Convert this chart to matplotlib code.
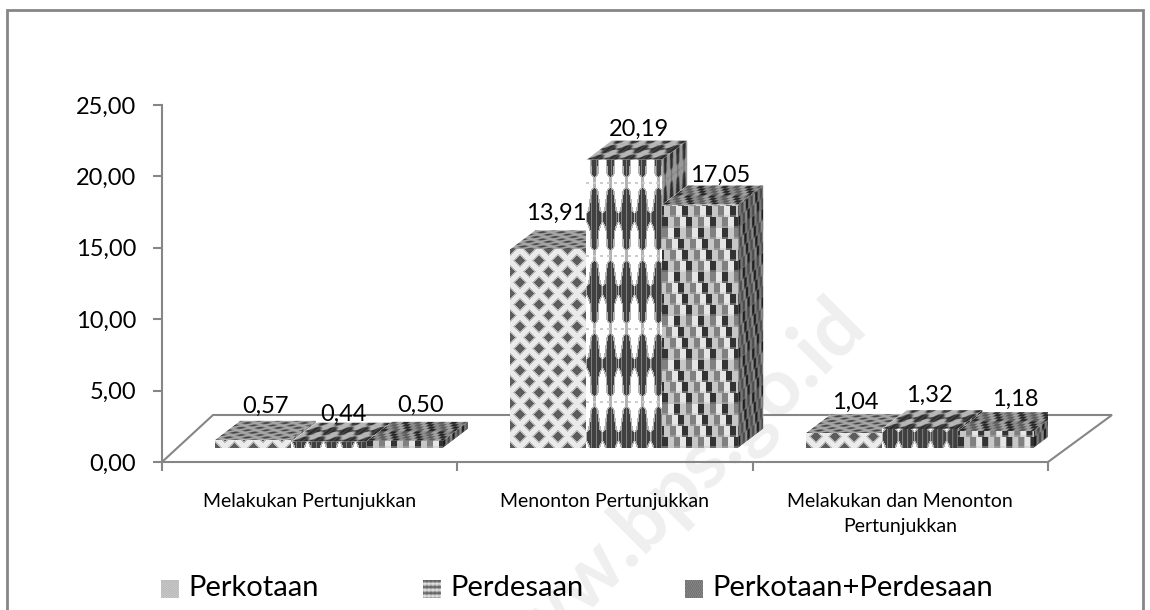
import numpy as np
import matplotlib
matplotlib.use('agg')
import matplotlib.pyplot as plt
from matplotlib.patches import Polygon
from matplotlib.transforms import Affine2D

plt.rcParams['font.family'] = ['Lato', 'DejaVu Sans']

categories = ["Melakukan Pertunjukkan", "Menonton Pertunjukkan", "Melakukan dan Menonton\nPertunjukkan"]
series_names = ["Perkotaan", "Perdesaan", "Perkotaan+Perdesaan"]
perkotaan = [0.57, 13.91, 1.04]
perdesaan = [0.44, 20.19, 1.32]
gabungan = [0.50, 17.05, 1.18]
y_ticks = [0, 5, 10, 15, 20, 25]
y_tick_labels = ["0,00", "5,00", "10,00", "15,00", "20,00", "25,00"]

W, H = 1150, 610
AXC = '#868686'
PX_Y = 357 / 25    # pixels per unit on the value axis
PX_X = 886 / 3     # pixels per category
DEPTH_X = 25 / PX_X
DEPTH_Y = 19 / PX_Y
FLOOR = 14 / PX_Y  # bars sit forward of the axis line, on the floor
BAR_W = 76 / PX_X
GROUP_X = 0.565


def tex_dots(w=190, h=44):
    # staggered grey diamonds on a nearly white ground
    yy, xx = np.mgrid[0:h, 0:w]
    a = np.abs((xx % 19) - 9.5) + np.abs((yy % 22) - 11)
    b = np.abs(((xx + 9.5) % 19) - 9.5) + np.abs(((yy + 11) % 22) - 11)
    d = np.minimum(a, b)
    img = np.full((h, w), 0.92)
    img[d < 7] = 0.72
    img[d < 5] = 0.36
    return img


def tex_zigzag(w=192, h=73):
    # dark stems that swell into a band, then thin out into a white band
    yy, xx = np.mgrid[0:h, 0:w]
    fx = np.abs((xx % 16) - 8)
    hh = (yy - 8) % 73
    half = np.interp(hh, [0, 6, 10, 30, 33, 43, 46, 62, 67, 73], [8, 8, 5, 2.5, 0, 0, 2.5, 3.5, 5, 8])
    img = np.ones((h, w))
    img[fx < half + 1.5] = 0.7
    img[fx < half] = 0.25
    img[(fx < half) & (xx % 5 == 0)] = 0.5
    # specks in the white band
    img[(hh > 36) & (hh < 39) & (xx % 7 < 3)] = 0.8
    return img


def tex_check(w=192, h=44):
    # dark, grey and white blocks stepping to the right going down
    yy, xx = np.mgrid[0:h, 0:w]
    r = yy // 11
    cx = ((xx + r * 4) // 6) % 4
    vals = np.array([0.2, 0.78, 0.5, 0.9])
    img = vals[cx]
    img[(yy % 11) < 2] = img[(yy % 11) < 2] * 0.6 + 0.3
    return img


TEXTURES = [tex_dots, tex_zigzag, tex_check]


def paint(ax, poly, tex, corner, ex, ey, shade=1.0):
    # fill a polygon with a tiled texture, mapped by the edge vectors ex, ey
    tile = np.tile(tex(), (8, 2))
    im = ax.imshow(tile * shade, cmap='gray', vmin=0, vmax=1, origin='lower',
                   extent=[0, 1, 0, 1], interpolation='bilinear', aspect='auto', zorder=poly.get_zorder())
    x0, y0 = corner
    t = Affine2D.from_values(ex[0], ex[1], ey[0], ey[1], x0, y0) + ax.transData
    im.set_transform(t)
    im.set_clip_path(poly)


def bar3d(ax, x, val, kind, z):
    left = x - BAR_W / 2
    right = x + BAR_W / 2
    base = FLOOR
    top = FLOOR + val
    # the bar itself, no fill, textures are clipped into it
    front = ax.bar(x, val, BAR_W, bottom=base, color='none', linewidth=0, zorder=z)[0]
    front_poly = Polygon([(left, base), (right, base), (right, top), (left, top)],
                         closed=True, transform=ax.transData, fc='white', ec='none', zorder=z)
    top_poly = Polygon([(left, top), (right, top), (right + DEPTH_X, top + DEPTH_Y), (left + DEPTH_X, top + DEPTH_Y)],
                       closed=True, transform=ax.transData, fc='white', ec='none', zorder=z)
    side_poly = Polygon([(right, base), (right + DEPTH_X, base + DEPTH_Y), (right + DEPTH_X, top + DEPTH_Y), (right, top)],
                        closed=True, transform=ax.transData, fc='white', ec='none', zorder=z)
    for p in (front_poly, top_poly, side_poly):
        ax.add_patch(p)
    tex = TEXTURES[kind]
    # tile sheet size in pixels, converted to data units
    sheet = tex().shape
    w_d = sheet[1] * 2 / PX_X
    h_d = sheet[0] * 8 / PX_Y
    paint(ax, front_poly, tex, (left, base), (w_d, 0), (0, h_d))
    paint(ax, top_poly, tex, (left, top), (w_d, 0), (DEPTH_X * 4, DEPTH_Y * 4), shade=0.72)
    paint(ax, side_poly, tex, (right, base), (DEPTH_X * 6, DEPTH_Y * 6), (0, h_d), shade=0.6)
    return front


fig = plt.figure(figsize=(W / 100, H / 100), dpi=100)
border = plt.Rectangle((6.5 / W, -0.01), (1143 - 6.5) / W, 1.01 - 9.5 / H, transform=fig.transFigure,
                       fc='white', ec=AXC, lw=2, zorder=-5)
fig.add_artist(border)

# watermark, runs off the bottom like in the original
fig.text(665 / W, 1 - 503 / H, "www.bps.go.id", rotation=45, ha='center', va='center',
         fontsize=58, color='#efefef', fontweight='bold', zorder=-1)

ax = fig.add_axes([162 / W, 1 - 462 / H, 886 / W, 357 / H])
ax.set_xlim(0, 3)
ax.set_ylim(0, 25)
ax.patch.set_visible(False)
for s in ['top', 'right']:
    ax.spines[s].set_visible(False)
for s in ['left', 'bottom']:
    ax.spines[s].set_color(AXC)
    ax.spines[s].set_linewidth(1.5)
ax.set_yticks(y_ticks)
ax.set_yticklabels(y_tick_labels, fontsize=17)
ax.set_xticks(range(4))
ax.set_xticklabels([])
ax.tick_params(axis='both', color=AXC, width=1.5, length=6.5)
ax.tick_params(axis='y', pad=12)

# floor of the 3D box
floor_dx = 51 / PX_X
floor_dx2 = 64 / PX_X
floor_dy = 47 / PX_Y
ax.plot([0, floor_dx, 3 + floor_dx2, 3], [0, floor_dy, floor_dy, 0], color=AXC, lw=1.5,
        clip_on=False, zorder=1, solid_joinstyle='miter')

series = [perkotaan, perdesaan, gabungan]
for g in range(len(categories)):
    for k, vals in enumerate(series):
        x = g + GROUP_X + (k - 1) * BAR_W
        bar3d(ax, x, vals[g], k, 3 + k * 0.1)

# value labels, each gets its own nudge in px from the back corner of its bar
nudge = {
    (0, 0): (-12, 15), (0, 1): (-10, 8), (0, 2): (-9, 17),
    (1, 0): (-17, 17), (1, 1): (-10, 11), (1, 2): (-5, 10),
    (2, 0): (-13, 12), (2, 1): (-15, 15), (2, 2): (-5, 13),
}
for g in range(len(categories)):
    for k, vals in enumerate(series):
        x = g + GROUP_X + (k - 1) * BAR_W
        dx, dy = nudge[(g, k)]
        ax.annotate(f"{vals[g]:.2f}".replace('.', ','), (x + DEPTH_X, FLOOR + vals[g] + DEPTH_Y),
                    xytext=(dx * 0.72, dy * 0.72), textcoords='offset points', ha='center', va='center',
                    fontsize=17, color='black', zorder=10)

# category labels, centred between the ticks
label_y = [501, 501, 514]
for i, (name, ly) in enumerate(zip(categories, label_y)):
    ax.text(i + 0.5, 25 - (ly - 105) / PX_Y, name, ha='center', va='center', fontsize=14, linespacing=1.53, color='black')

# legend, the pattern is squeezed so far that it nearly reads as flat grey
swatch_x = [161, 423, 685]
for name, sx, k in zip(series_names, swatch_x, range(3)):
    sax = fig.add_axes([sx / W, 1 - 598 / H, 18 / W, 18 / H])
    sheet = np.tile(TEXTURES[k](), (6, 2))[:216, :216]
    sax.imshow(sheet * (0.8 if k == 2 else 1.0), cmap='gray', vmin=0.0, vmax=1,
               interpolation='antialiased', aspect='auto')
    sax.axis('off')
    fig.text((sx + 27) / W, 1 - 588 / H, name, ha='left', va='center', fontsize=21, color='black')

fig.savefig('out.png', dpi=100)
